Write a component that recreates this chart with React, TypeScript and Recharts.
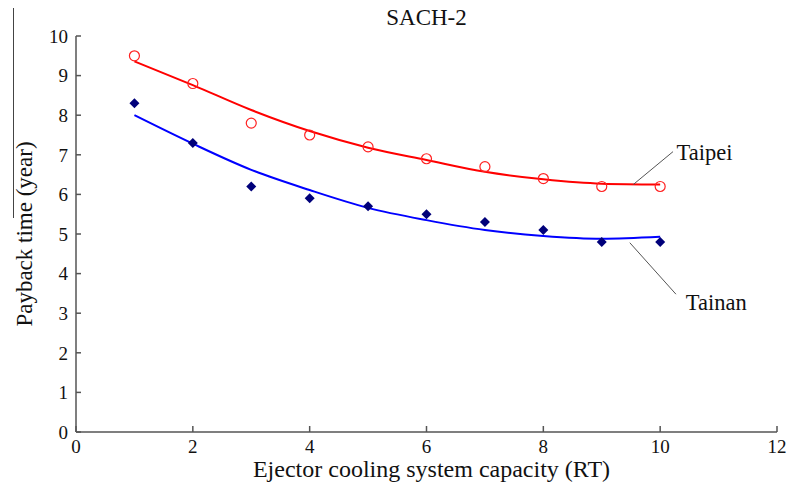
import {
  ComposedChart, Line, Scatter, XAxis, YAxis, ReferenceLine, ReferenceDot,
} from "recharts";

// capacity (RT)
const capacity = [1, 2, 3, 4, 5, 6, 7, 8, 9, 10];
// measured payback time (year)
const taipeiPoints = [9.5, 8.8, 7.8, 7.5, 7.2, 6.9, 6.7, 6.4, 6.2, 6.2];
const tainanPoints = [8.3, 7.3, 6.2, 5.9, 5.7, 5.5, 5.3, 5.1, 4.8, 4.8];
// trend curves
const taipeiFit = [9.36, 8.76, 8.13, 7.6, 7.18, 6.87, 6.57, 6.38, 6.27, 6.25];
const tainanFit = [8.0, 7.28, 6.62, 6.11, 5.66, 5.35, 5.1, 4.95, 4.88, 4.93];

const xTicks = [0, 2, 4, 6, 8, 10, 12];
const yTicks = [0, 1, 2, 3, 4, 5, 6, 7, 8, 9, 10];

const font = "'Liberation Serif', 'Times New Roman', serif";
const axisColor = "#555";

const toRows = (ys: number[]) => capacity.map((x, i) => ({ x, y: ys[i] }));

const OpenCircle = (props: any) => (
  <circle cx={props.cx} cy={props.cy} r={5} fill="none" stroke="#ff2020" strokeWidth={1.2} />
);

const Diamond = (props: any) => {
  const { cx, cy } = props;
  const s = 5;
  return (
    <polygon
      points={`${cx},${cy - s} ${cx + s},${cy} ${cx},${cy + s} ${cx - s},${cy}`}
      fill="#00007a"
    />
  );
};

export default function App() {
  const tickStyle = { fontSize: 19, fill: "#111", fontFamily: font };
  const nameStyle = { fontSize: 22.5, fill: "#111", fontFamily: font };

  return (
    <div style={{ position: "absolute", left: 0, top: 0, width: 788, height: 492, background: "white" }}>
      {/* stray border line from the scanned figure */}
      <div style={{ position: "absolute", left: 13, top: 8, width: 1, height: 210, background: "#444" }} />
      <div style={{
        position: "absolute", top: 6, left: 76, width: 701, textAlign: "center",
        fontFamily: font, fontSize: 23, lineHeight: "24px", color: "#111",
      }}>
        SACH-2
      </div>
      <ComposedChart width={788} height={492} margin={{ top: 36, right: 11, left: 16, bottom: 0 }}
        style={{ position: "absolute", left: 0, top: 0 }}>
        <XAxis
          xAxisId="b"
          type="number"
          dataKey="x"
          domain={[0, 12]}
          ticks={xTicks}
          height={60}
          tickSize={-6}
          tickMargin={14}
          stroke={axisColor}
          strokeWidth={1.5}
          tick={tickStyle}
          label={{
            value: "Ejector cooling system capacity (RT)",
            position: "insideBottom",
            offset: 15,
            dx: 5,
            style: { fontSize: 24, fill: "#111", fontFamily: font },
          }}
          allowDataOverflow
        />
        <XAxis xAxisId="t" orientation="top" type="number" domain={[0, 12]} height={0}
          tick={false} tickLine={false} stroke={axisColor} strokeWidth={1.5} />
        <YAxis
          yAxisId="l"
          type="number"
          domain={[0, 10]}
          ticks={yTicks}
          width={60}
          tickSize={-5}
          tickMargin={13}
          stroke={axisColor}
          strokeWidth={1.5}
          tick={tickStyle}
          label={{
            value: "Payback time (year)",
            angle: -90,
            position: "insideLeft",
            offset: 8,
            style: { fontSize: 23, fill: "#111", fontFamily: font, textAnchor: "middle" },
          }}
        />
        <YAxis yAxisId="r" orientation="right" type="number" domain={[0, 10]} width={0}
          tick={false} tickLine={false} stroke={axisColor} strokeWidth={1.5} />

        <Line xAxisId="b" yAxisId="l" data={toRows(taipeiFit)} dataKey="y" type="monotone"
          stroke="#ff0000" strokeWidth={2} dot={false} isAnimationActive={false} />
        <Line xAxisId="b" yAxisId="l" data={toRows(tainanFit)} dataKey="y" type="monotone"
          stroke="#0000ff" strokeWidth={2} dot={false} isAnimationActive={false} />
        <Scatter xAxisId="b" yAxisId="l" data={toRows(taipeiPoints)} dataKey="y"
          shape={<OpenCircle />} isAnimationActive={false} />
        <Scatter xAxisId="b" yAxisId="l" data={toRows(tainanPoints)} dataKey="y"
          shape={<Diamond />} isAnimationActive={false} />

        {/* leader lines + series names */}
        <ReferenceLine xAxisId="b" yAxisId="l" segment={[{ x: 9.54, y: 6.25 }, { x: 10.22, y: 7.08 }]}
          stroke="#555" strokeWidth={1} />
        <ReferenceLine xAxisId="b" yAxisId="l" segment={[{ x: 9.48, y: 4.78 }, { x: 10.27, y: 3.48 }]}
          stroke="#555" strokeWidth={1} />
        <ReferenceDot xAxisId="b" yAxisId="l" x={10.28} y={7.07} r={0} fill="none" stroke="none"
          label={{ value: "Taipei", position: "right", offset: 0, style: nameStyle }} />
        <ReferenceDot xAxisId="b" yAxisId="l" x={10.44} y={3.29} r={0} fill="none" stroke="none"
          label={{ value: "Tainan", position: "right", offset: 0, style: nameStyle }} />
      </ComposedChart>
    </div>
  );
}
